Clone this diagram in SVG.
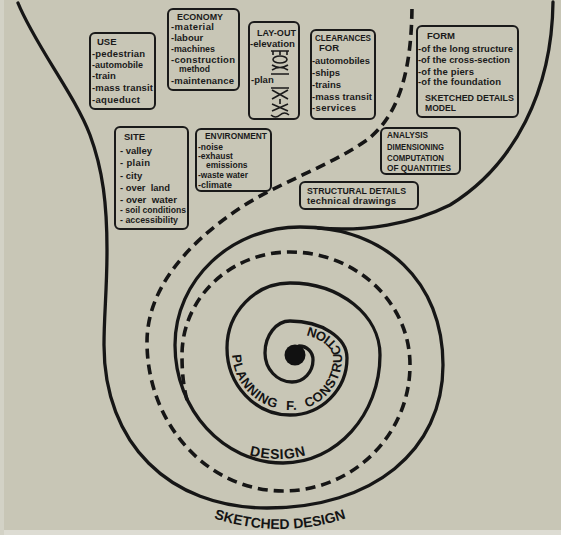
<svg xmlns="http://www.w3.org/2000/svg" width="561" height="535" viewBox="0 0 561 535">
<style>
.ln{fill:none;stroke:#161616;stroke-width:3.3;stroke-linecap:round;stroke-linejoin:round}
.ds{fill:none;stroke:#161616;stroke-width:3.6;stroke-dasharray:10 6}
.bx{fill:none;stroke:#1a1a1a;stroke-width:2}
.ic{fill:none;stroke:#1a1a1a;stroke-width:1.6}
.t{font-family:"Liberation Sans",Arial,sans-serif;font-size:9.5px;font-weight:bold;fill:#1a1a1a}
.s{font-size:8.5px}
.a{font-size:9px}
.lb{font-family:"Liberation Sans",Arial,sans-serif;font-weight:bold;fill:#141414}
</style>
<defs>
<path id="planPath" d="M232,352 C232,384.6 258.4,410 291,410 C319.2,410 342,386.7 342,358 C342,339.8 319.6,325 292,325"/>
<path id="designPath" d="M169,350 A109,109 0 0 0 387,350"/>
<path id="sketchPath" d="M70,319 A210,210 0 0 0 490,319"/>
</defs>
<rect width="561" height="535" fill="#c8c6b6"/>
<rect x="0" y="530" width="561" height="5" fill="#dddcd3"/>
<rect x="0" y="0" width="4" height="535" fill="#d3d2c6"/>

<g id="connectors">
<path id="spiral" class="ln" d="M18,3 C35,45 75,95 90,135 C103,170 107,205 107,250 C107,290 104,315 104,345 C104,443 169,508 267,508 C372.6,508 443,450.8 443,365 C443,282 385.8,227 300,227 C231,227 175,280 175,345 C175,410.2 223.4,463 283,463 C336.6,463 380,414.6 380,355 C380,315.2 339.7,283 290,283 C255.2,283 227,312.1 227,348 C227,385 255.2,415 290,415 C321.5,415 347,389.5 347,358 C347,337.6 321.5,321 290,321 C276.2,321 265,335.3 265,353 C265,369 277.1,382 292,382 C303.6,382 313,372.2 313,360 C313,352 307,346 299,346"/>
<path id="right-curve" class="ln" d="M553,2 C552,90 515,165 450,205 C412,224 365,232 318,228"/>
<path id="dashed-spiral" class="ds" d="M187,400 C183,385 182,370 182,355 C182,298.1 230.4,252 290,252 C356.3,252 410,302.6 410,365 C410,434.6 353.1,491 283,491 C207.9,491 147,424.3 147,342 C147,290 185,245 240,208 C280,182 330,166 367,140 C395,118 412,80 412,3"/>
<circle id="center-dot" cx="295" cy="355" r="10.5" fill="#111"/>
</g>

<g id="spiral-labels">
<text class="lb" font-size="13" letter-spacing="0.8" word-spacing="5"><textPath href="#planPath" startOffset="3">PLANNING F. CONSTRUCTION</textPath></text>
<text class="lb" font-size="14" letter-spacing="0.7" text-anchor="middle"><textPath href="#designPath" startOffset="50%">DESIGN</textPath></text>
<text class="lb" font-size="14" text-anchor="middle"><textPath href="#sketchPath" startOffset="50%">SKETCHED DESIGN</textPath></text>
</g>

<g id="use">
<rect class="bx" x="90" y="33" width="65" height="76" rx="5"/>
<text class="t" x="97" y="45">USE</text>
<text class="t" x="92" y="57" textLength="53" lengthAdjust="spacing">-pedestrian</text>
<text class="t" x="92" y="68" textLength="51" lengthAdjust="spacingAndGlyphs">-automobile</text>
<text class="t" x="92" y="79">-train</text>
<text class="t" x="92" y="91" textLength="61" lengthAdjust="spacing">-mass transit</text>
<text class="t" x="92" y="103" textLength="48" lengthAdjust="spacing">-aqueduct</text>
</g>

<g id="economy">
<rect class="bx" x="168" y="9" width="71" height="81" rx="5"/>
<text class="t" x="177" y="20" textLength="46" lengthAdjust="spacingAndGlyphs">ECONOMY</text>
<text class="t" x="171" y="30" textLength="43" lengthAdjust="spacing">-material</text>
<text class="t" x="171" y="41">-labour</text>
<text class="t" x="171" y="52" textLength="44" lengthAdjust="spacingAndGlyphs">-machines</text>
<text class="t" x="171" y="62.5" textLength="64" lengthAdjust="spacing">-construction</text>
<text class="t" x="179" y="72" textLength="31" lengthAdjust="spacingAndGlyphs">method</text>
<text class="t" x="171" y="84" textLength="63" lengthAdjust="spacing">-maintenance</text>
</g>

<g id="layout">
<rect class="bx" x="249" y="22" width="50" height="97" rx="5"/>
<text class="t" x="257" y="36" textLength="39" lengthAdjust="spacingAndGlyphs">LAY-OUT</text>
<text class="t" x="250" y="47" textLength="45" lengthAdjust="spacingAndGlyphs">-elevation</text>
<text class="t" x="251" y="83">-plan</text>
<path class="ic" d="M271,51 h18 M273,51 v4 M280,51 v4 M287,51 v4 M272,65 q8,5 16,0 M272,70 q8,-5 16,0 M271,74 h18"/>
<ellipse class="ic" cx="280" cy="59.5" rx="7" ry="3.5"/>
<path class="ic" d="M271,88 h18 M272,90 l16,9 M288,90 l-16,9 M280,99 v5 M272,104 l16,7 M288,104 l-16,7 M271,115 q4.5,4 9,0 q4.5,-4 9,0"/>
</g>

<g id="clearances">
<rect class="bx" x="311" y="30" width="64" height="89" rx="5"/>
<text class="t" x="315" y="41" textLength="56" lengthAdjust="spacingAndGlyphs">CLEARANCES</text>
<text class="t" x="319" y="51">FOR</text>
<text class="t" x="312" y="64" textLength="58" lengthAdjust="spacingAndGlyphs">-automobiles</text>
<text class="t" x="312" y="76">-ships</text>
<text class="t" x="312" y="88">-trains</text>
<text class="t" x="312" y="100" textLength="60" lengthAdjust="spacing">-mass transit</text>
<text class="t" x="312" y="111" textLength="44" lengthAdjust="spacing">-services</text>
</g>

<g id="form">
<rect class="bx" x="417" y="26" width="101" height="91" rx="5"/>
<text class="t" x="427" y="39">FORM</text>
<text class="t" x="418" y="52" textLength="95" lengthAdjust="spacingAndGlyphs">-of the long structure</text>
<text class="t" x="418" y="63" textLength="92" lengthAdjust="spacingAndGlyphs">-of the cross-section</text>
<text class="t" x="418" y="75" textLength="56" lengthAdjust="spacing">-of the piers</text>
<text class="t" x="418" y="85" textLength="83" lengthAdjust="spacing">-of the foundation</text>
<text class="t" x="425" y="101" textLength="89" lengthAdjust="spacingAndGlyphs">SKETCHED DETAILS</text>
<text class="t" x="425" y="111" textLength="31" lengthAdjust="spacingAndGlyphs">MODEL</text>
</g>

<g id="site">
<rect class="bx" x="115" y="127" width="73" height="102" rx="5"/>
<text class="t" x="124" y="140">SITE</text>
<text class="t" x="120" y="154" textLength="32" lengthAdjust="spacing">- valley</text>
<text class="t" x="120" y="166" textLength="30" lengthAdjust="spacing">- plain</text>
<text class="t" x="120" y="179">- city</text>
<text class="t" x="120" y="191" textLength="50" lengthAdjust="spacingAndGlyphs" xml:space="preserve">- over  land</text>
<text class="t" x="120" y="203" textLength="57" lengthAdjust="spacingAndGlyphs" xml:space="preserve">- over  water</text>
<text class="t" x="120" y="213" textLength="66" lengthAdjust="spacingAndGlyphs">- soil conditions</text>
<text class="t" x="120" y="223" textLength="58" lengthAdjust="spacingAndGlyphs">- accessibility</text>
</g>

<g id="environment">
<rect class="bx" x="196" y="129" width="75" height="62" rx="5"/>
<text class="t" x="205" y="139" textLength="62" lengthAdjust="spacingAndGlyphs">ENVIRONMENT</text>
<text class="t s" x="198" y="150">-noise</text>
<text class="t s" x="198" y="159">-exhaust</text>
<text class="t s" x="206" y="168">emissions</text>
<text class="t" x="198" y="178" textLength="50" lengthAdjust="spacingAndGlyphs">-waste water</text>
<text class="t" x="198" y="188" textLength="34" lengthAdjust="spacingAndGlyphs">-climate</text>
</g>

<g id="analysis">
<rect class="bx" x="381" y="128" width="79" height="46" rx="5"/>
<text class="t a" x="387" y="138" textLength="41" lengthAdjust="spacingAndGlyphs">ANALYSIS</text>
<text class="t a" x="387" y="150" textLength="57" lengthAdjust="spacingAndGlyphs">DIMENSIONING</text>
<text class="t a" x="387" y="161" textLength="57" lengthAdjust="spacingAndGlyphs">COMPUTATION</text>
<text class="t a" x="387" y="171" textLength="64" lengthAdjust="spacingAndGlyphs">OF QUANTITIES</text>
</g>

<g id="structural-details">
<rect class="bx" x="300" y="182" width="118" height="27" rx="5"/>
<text class="t" x="307" y="194" textLength="99" lengthAdjust="spacingAndGlyphs">STRUCTURAL DETAILS</text>
<text class="t" x="307" y="204" textLength="89" lengthAdjust="spacing">technical drawings</text>
</g>
</svg>
